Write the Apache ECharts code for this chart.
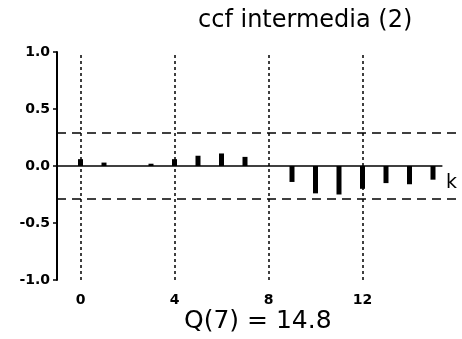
<!DOCTYPE html>
<html>
<head>
<meta charset="utf-8">
<script src="https://cdn.jsdelivr.net/npm/echarts@6/dist/echarts.min.js"></script>
<style>html,body{margin:0;padding:0;background:#fff}#c{width:462px;height:339px}</style>
</head>
<body>
<div id="c"></div>
<script>
var lags = [0,1,2,3,4,5,6,7,8,9,10,11,12,13,14,15];
var ccfValues = [0.06,0.03,0.0,0.02,0.06,0.09,0.11,0.08,0.0,-0.14,-0.24,-0.25,-0.20,-0.15,-0.16,-0.12];
var xTickLabels = [0,4,8,12];
var yTicks = [-1.0,-0.5,0.0,0.5,1.0];
var confBand = [0.29,-0.29];
var titleText = 'ccf intermedia (2)';
var footText = 'Q(7) = 14.8';
var lagLabel = 'k';
var zeroLineEnd = 15.4;

var chart = echarts.init(document.getElementById('c'));
var font = 'DejaVu Sans';
var barData = lags.map(function(k,i){return [k, ccfValues[i]];});
var vLines = xTickLabels.map(function(v){return {xAxis:v};});
var hLines = confBand.map(function(v){return {yAxis:v};});

chart.setOption({
  animation:false,
  backgroundColor:'#fff',
  title:{text:titleText,left:193,top:4,textStyle:{fontFamily:font,fontSize:24,fontWeight:'normal',color:'#000'}},
  grid:{left:57,right:5.5,top:52,bottom:59},
  xAxis:{type:'value',min:-1,max:16,
    axisLine:{show:false},axisTick:{show:false},splitLine:{show:false},
    axisLabel:{customValues:xTickLabels,margin:13,fontFamily:font,fontSize:14,fontWeight:'bold',color:'#000'}},
  yAxis:{type:'value',min:-1,max:1,interval:0.5,
    axisLine:{show:true,onZero:false,lineStyle:{color:'#000',width:2}},
    axisTick:{show:true,length:4,lineStyle:{color:'#000',width:1.5}},
    splitLine:{show:false},
    axisLabel:{margin:7,fontFamily:font,fontSize:14,fontWeight:'bold',color:'#000',
      formatter:function(v){return v.toFixed(1);}}},
  graphic:[
    {type:'text',left:446,top:174,style:{text:lagLabel,font:'19px '+font,fill:'#000'}},
    {type:'text',left:184,top:309,style:{text:footText,font:'25px '+font,fill:'#000'}}
  ],
  series:[
    {type:'bar',data:barData,barWidth:5,itemStyle:{color:'#000'},silent:true,z:3,
      markLine:{silent:true,symbol:'none',label:{show:false},
        lineStyle:{color:'#000',width:1.5,type:[3,3]},data:vLines}},
    {type:'line',data:[],silent:true,
      markLine:{silent:true,symbol:'none',label:{show:false},
        lineStyle:{color:'#000',width:1.5,type:[9,6]},data:hLines}},
    {type:'line',data:[],silent:true,
      markLine:{silent:true,symbol:'none',label:{show:false},
        lineStyle:{color:'#000',width:1.5,type:'solid'},
        data:[[{coord:[-1,0]},{coord:[zeroLineEnd,0]}]]}}
  ]
});
</script>
</body>
</html>
